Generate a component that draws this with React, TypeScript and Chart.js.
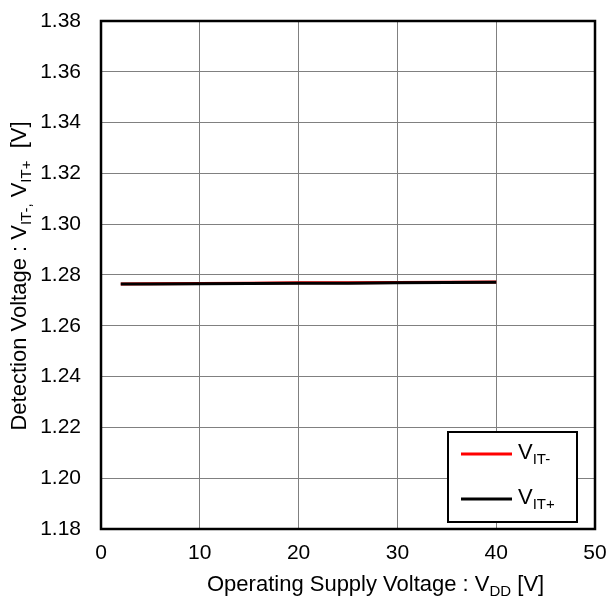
import React, { useEffect, useRef } from "react";
import { Chart, registerables } from "chart.js";

Chart.register(...registerables);

const supplyVoltage = [2, 5, 10, 15, 20, 25, 30, 35, 40];
const vitMinus = [1.2765, 1.2766, 1.2767, 1.2768, 1.2769, 1.2769, 1.2770, 1.2771, 1.2772];
const vitPlus = [1.2765, 1.2765, 1.2766, 1.2767, 1.2768, 1.2768, 1.2769, 1.2770, 1.2771];
const xTickValues = [0, 10, 20, 30, 40, 50];
const yTickValues = [1.18, 1.2, 1.22, 1.24, 1.26, 1.28, 1.3, 1.32, 1.34, 1.36, 1.38];

const FONT = "'Liberation Sans', Arial, sans-serif";

type Seg = { t: string; size: number; sub?: boolean };

function drawSegs(ctx: CanvasRenderingContext2D, segs: Seg[], x: number, y: number, align: "left" | "center") {
  let total = 0;
  const widths = segs.map((s) => {
    ctx.font = `${s.size}px ${FONT}`;
    const w = ctx.measureText(s.t).width;
    total += w;
    return w;
  });
  let cx = align === "center" ? x - total / 2 : x;
  ctx.textBaseline = "alphabetic";
  ctx.textAlign = "left";
  segs.forEach((s, i) => {
    ctx.font = `${s.size}px ${FONT}`;
    ctx.fillText(s.t, cx, s.sub ? y + 5 : y);
    cx += widths[i];
  });
}

const decorPlugin = {
  id: "decor",
  afterDraw(chart: any) {
    const { ctx, chartArea } = chart;
    const { left, right, top, bottom } = chartArea;
    ctx.save();
    // plot border
    ctx.strokeStyle = "#000";
    ctx.lineWidth = 2.5;
    ctx.strokeRect(left, top, right - left, bottom - top);

    // legend box
    const lx = 448, ly = 432, lw = 129, lh = 90;
    ctx.fillStyle = "#fff";
    ctx.fillRect(lx, ly, lw, lh);
    ctx.lineWidth = 2;
    ctx.strokeStyle = "#000";
    ctx.strokeRect(lx, ly, lw, lh);

    ctx.lineWidth = 3;
    ctx.strokeStyle = "#ff0000";
    ctx.beginPath();
    ctx.moveTo(461, 454);
    ctx.lineTo(512, 454);
    ctx.stroke();
    ctx.strokeStyle = "#000";
    ctx.beginPath();
    ctx.moveTo(461, 499);
    ctx.lineTo(512, 499);
    ctx.stroke();

    ctx.fillStyle = "#000";
    drawSegs(ctx, [{ t: "V", size: 22 }, { t: "IT-", size: 15, sub: true }], 518, 459, "left");
    drawSegs(ctx, [{ t: "V", size: 22 }, { t: "IT+", size: 15, sub: true }], 518, 504, "left");

    // x title
    drawSegs(
      ctx,
      [
        { t: "Operating Supply Voltage : V", size: 22 },
        { t: "DD", size: 15, sub: true },
        { t: " [V]", size: 22 },
      ],
      207,
      591,
      "left"
    );

    // y title
    ctx.translate(26, 276);
    ctx.rotate(-Math.PI / 2);
    drawSegs(
      ctx,
      [
        { t: "Detection Voltage : V", size: 22 },
        { t: "IT-,", size: 15, sub: true },
        { t: " V", size: 22 },
        { t: "IT+", size: 15, sub: true },
        { t: "  [V]", size: 22 },
      ],
      0,
      0,
      "center"
    );
    ctx.restore();
  },
};

export default function App() {
  const ref = useRef<HTMLCanvasElement | null>(null);
  useEffect(() => {
    document.body.style.margin = "0";
    const canvas = ref.current;
    if (!canvas) return;
    const chart = new Chart(canvas, {
      type: "scatter",
      data: {
        datasets: [
          {
            label: "VIT+",
            data: supplyVoltage.map((x, i) => ({ x, y: vitPlus[i] })),
            showLine: true,
            borderColor: "#000",
            backgroundColor: "#000",
            borderWidth: 3,
            pointRadius: 0,
            order: 0,
          },
          {
            label: "VIT-",
            data: supplyVoltage.map((x, i) => ({ x, y: vitMinus[i] })),
            showLine: true,
            borderColor: "#ff0000",
            backgroundColor: "#ff0000",
            borderWidth: 3,
            pointRadius: 0,
            order: 1,
          },
        ],
      },
      options: {
        responsive: false,
        animation: false,
        layout: { padding: { top: 21, right: 15, left: 0, bottom: 0 } },
        plugins: { legend: { display: false }, tooltip: { enabled: false } },
        scales: {
          x: {
            type: "linear",
            min: 0,
            max: 50,
            afterBuildTicks: (s: any) => {
              s.ticks = xTickValues.map((v) => ({ value: v }));
            },
            afterFit: (s: any) => {
              s.height = 79;
              s.paddingLeft = 0;
              s.paddingRight = 0;
            },
            grid: { color: "#808080", lineWidth: 1, drawTicks: false },
            border: { display: false },
            ticks: {
              color: "#000",
              font: { family: FONT, size: 21 },
              padding: 12,
              maxRotation: 0,
            },
          },
          y: {
            type: "linear",
            min: 1.18,
            max: 1.38,
            afterBuildTicks: (s: any) => {
              s.ticks = yTickValues.map((v) => ({ value: v }));
            },
            afterFit: (s: any) => {
              s.width = 101;
              s.paddingTop = 0;
              s.paddingBottom = 0;
            },
            grid: { color: "#808080", lineWidth: 1, drawTicks: false },
            border: { display: false },
            ticks: {
              color: "#000",
              font: { family: FONT, size: 21 },
              padding: 20,
              callback: (v: any) => Number(v).toFixed(2),
            },
          },
        },
      },
      plugins: [decorPlugin],
    });
    return () => chart.destroy();
  }, []);
  return <canvas ref={ref} width={610} height={608} style={{ display: "block" }} />;
}
